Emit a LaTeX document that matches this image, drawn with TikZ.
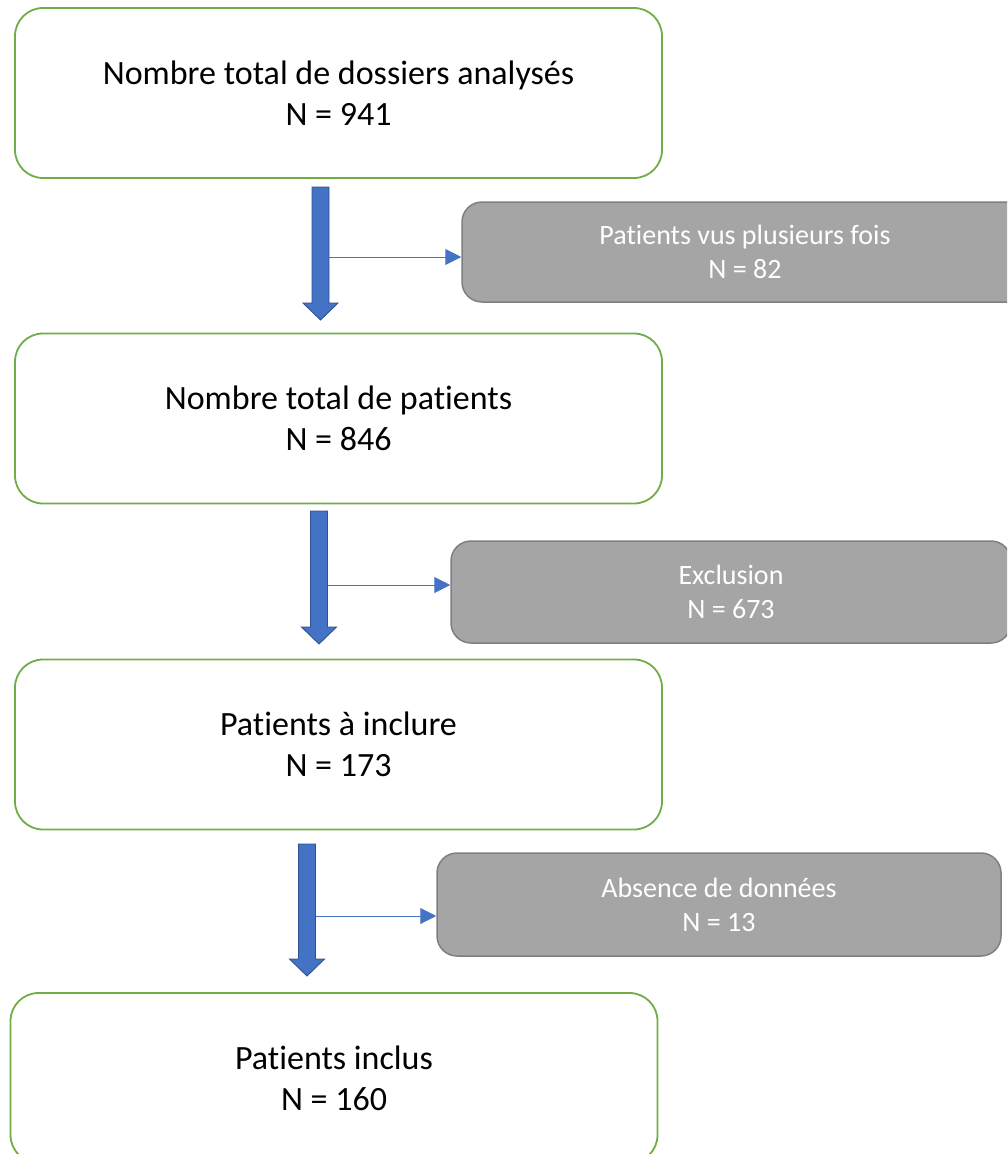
\documentclass[tikz,border=0pt]{standalone}
\usepackage{fontspec}
\setmainfont{Carlito}[Ligatures={NoCommon}]
\usetikzlibrary{arrows.meta}
\definecolor{boxgreen}{HTML}{70AD47}
\definecolor{boxgray}{HTML}{A5A5A5}
\definecolor{graydraw}{HTML}{7F7F7F}
\definecolor{arrowblue}{HTML}{4472C4}
\definecolor{arrowdark}{HTML}{2F528F}

\begin{document}
\begin{tikzpicture}[x=1pt, y=-1pt,
    main/.style = {draw=boxgreen, line width=1.8pt, rounded corners=28pt, fill=white,
                   minimum width=647pt, minimum height=170pt, align=center,
                   font=\fontsize{34pt}{41pt}\selectfont},
    excl/.style = {draw=graydraw, line width=1.5pt, rounded corners=20pt, fill=boxgray,
                   text=white, align=center, font=\fontsize{28pt}{34pt}\selectfont},
    bigarrow/.style = {fill=arrowblue, draw=arrowdark, line width=0.9pt},
    side/.style = {draw=arrowblue, line width=1pt, -{Triangle[length=16pt,width=16pt]}}]

    \useasboundingbox (0,0) rectangle (1007,1154);
    \clip (0,0) rectangle (1007,1154);

    % Boites principales
    \node[main] (dossiers) at (338.5,93) {Nombre total de dossiers analysés\\N = 941};
    \node[main] (patients) at (338.5,418.5) {Nombre total de patients\\N = 846};
    \node[main] (inclure) at (338.5,744.5) {Patients à inclure\\N = 173};
    \node[main] (inclus) at (334,1078) {Patients inclus\\N = 160};

    % Boites d'exclusion
    \node[excl, minimum width=566pt, minimum height=100pt] (plusieurs) at (745,252) {Patients vus plusieurs fois\\N = 82};
    \node[excl, minimum width=560pt, minimum height=102pt] (exclusion) at (731,592) {Exclusion\\N = 673};
    \node[excl, minimum width=564pt, minimum height=103pt] (absence) at (719,904.5) {Absence de données\\N = 13};

    % Grosses fleches
    \foreach \cx/\top/\hd/\tip/\name/\ya in {320.5/187/303/320/a/257, 319/511/627/644/b/585, 307/844/959/976/c/916}{
        \draw[bigarrow] (\cx-8.5,\top) -- (\cx+8.5,\top) -- (\cx+8.5,\hd) -- (\cx+17.5,\hd)
            -- (\cx,\tip) -- (\cx-17.5,\hd) -- (\cx-8.5,\hd) -- cycle;
        \coordinate (\name) at (\cx+8.5,\ya);
    }

    % Liens vers les exclusions
    \draw[side] (a) -- (a -| plusieurs.west);
    \draw[side] (b) -- (b -| exclusion.west);
    \draw[side] (c) -- (c -| absence.west);
\end{tikzpicture}
\end{document}
